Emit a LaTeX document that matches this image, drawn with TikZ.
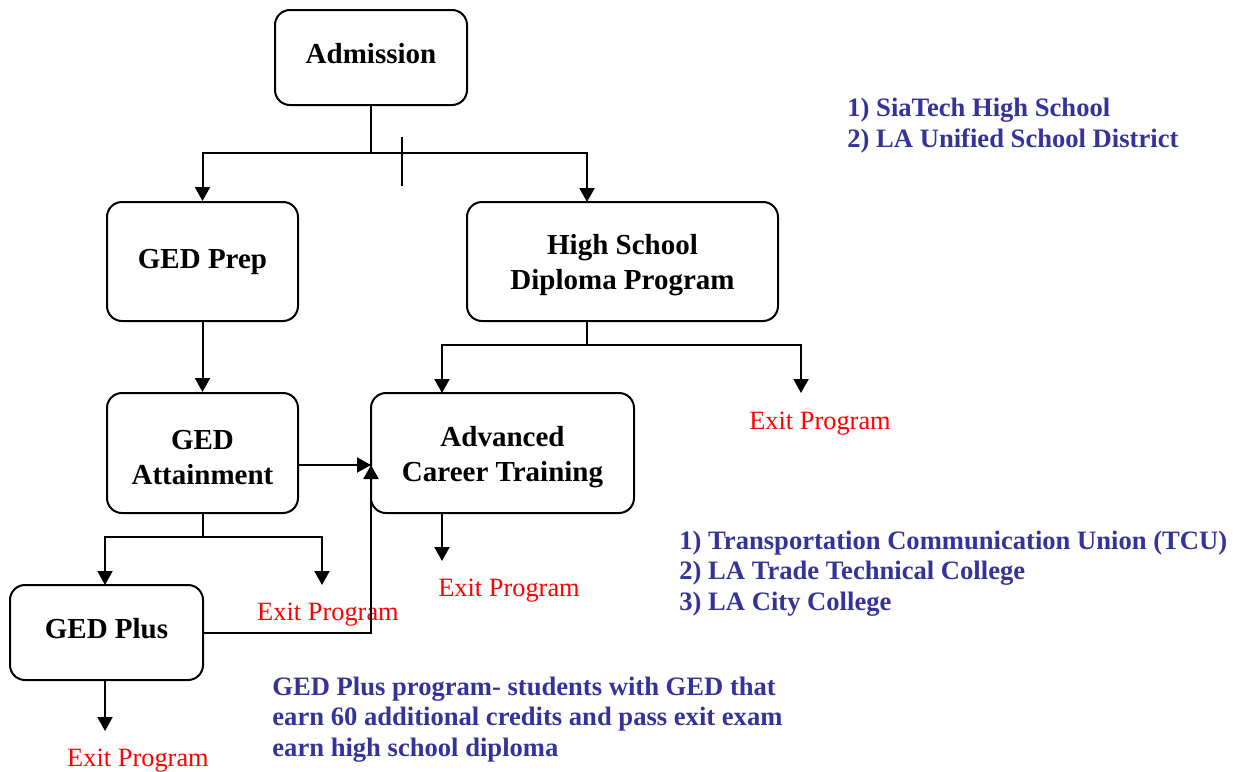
\documentclass[tikz,border=0pt]{standalone}
\usepackage{fontspec}
\setmainfont{Liberation Serif}
\usetikzlibrary{arrows.meta}
\definecolor{notecol}{RGB}{51,51,153}
\definecolor{exitcol}{RGB}{255,0,0}
% struts that push box text down (extra height) or up (extra depth)
\newcommand{\padtop}[1]{\rule{0pt}{#1}}
\newcommand{\padbot}[1]{\rule[-#1]{0pt}{#1}}
\begin{document}
\begin{tikzpicture}[x=0.5pt,y=-0.5pt,
  box/.style={draw, line width=1pt, rounded corners=7.5pt, align=center,
    font=\fontsize{14.5pt}{17.5pt}\selectfont\bfseries, inner sep=0pt},
  link/.style={line width=1pt, -{Triangle[width=7.5pt,length=7pt]}},
  plain/.style={line width=1pt},
  exitlbl/.style={text=exitcol, font=\fontsize{13.2pt}{16pt}\selectfont, inner sep=0pt},
  note/.style={text=notecol, align=left, anchor=west, inner sep=0pt,
    font=\fontsize{13.3pt}{15.3pt}\selectfont\bfseries}]
\useasboundingbox (0,0) rectangle (1246,771);

% boxes
\node[box, minimum width=96pt,   minimum height=47.5pt] (adm)  at (371,57.5)   {Admission\padbot{4.2pt}};
\node[box, minimum width=95.5pt, minimum height=59.5pt] (prep) at (202.5,261.5) {GED Prep};
\node[box, minimum width=155.5pt,minimum height=59.5pt] (hs)   at (622.5,261.5) {\padtop{14pt}High School\\Diploma Program};
\node[box, minimum width=95.5pt, minimum height=60pt]   (att)  at (202.5,453)  {\padtop{14pt}GED\\Attainment};
\node[box, minimum width=131.5pt,minimum height=60pt]   (act)  at (502.5,453)  {\padtop{14pt}Advanced\\Career Training};
\node[box, minimum width=96.5pt, minimum height=47.5pt] (plus) at (106.5,632.5) {GED Plus\padbot{4pt}};

% exit labels
\node[exitlbl] (exit1) at (820,424) {Exit Program};
\node[exitlbl] (exit2) at (328,615) {Exit Program};
\node[exitlbl] (exit3) at (509,591) {Exit Program};
\node[exitlbl] (exit4) at (138,761) {Exit Program};

% notes
\node[note] (note1) at (847,125.5) {1) SiaTech High School\\2) LA Unified School District};
\node[note] (note2) at (679,573.5) {1) Transportation Communication Union (TCU)\\2) LA Trade Technical College\\3) LA City College};
\node[note] (note3) at (272,719.5) {GED Plus program- students with GED that\\earn 60 additional credits and pass exit exam\\earn high school diploma};

% junction and entry points
\coordinate (split1) at (371,153);
\coordinate (hsIn) at (587,202);
\coordinate (tickTop) at (402,137);
\coordinate (tickBot) at (402,186);
\coordinate (split2) at (587,345);
\coordinate (actIn) at (442,393);
\coordinate (exit1In) at (801,393);
\coordinate (mergeA) at (371,465);
\coordinate (split3) at (202.5,537);
\coordinate (plusIn) at (105,585);
\coordinate (exit2In) at (322,585);
\coordinate (exit3In) at (442,561);
\coordinate (exit4In) at (105,731);

% connectors
\draw[plain] (adm.south) -- (split1);
\draw[link] (split1) -| (prep.north);
\draw[link] (split1) -| (hsIn);
\draw[plain] (tickTop) -- (tickBot);

\draw[link] (prep.south) -- (att.north);

\draw[plain] (split2 |- hs.south) -- (split2);
\draw[link] (split2) -| (actIn);
\draw[link] (split2) -| (exit1In);

\draw[link] (att.east |- mergeA) -- (mergeA);
\draw[plain] (att.south) -- (split3);
\draw[link] (split3) -| (plusIn);
\draw[link] (split3) -| (exit2In);

\draw[link] (plus.east) -| (mergeA);
\draw[link] (exit3In |- act.south) -- (exit3In);
\draw[link] (exit4In |- plus.south) -- (exit4In);
\end{tikzpicture}
\end{document}
